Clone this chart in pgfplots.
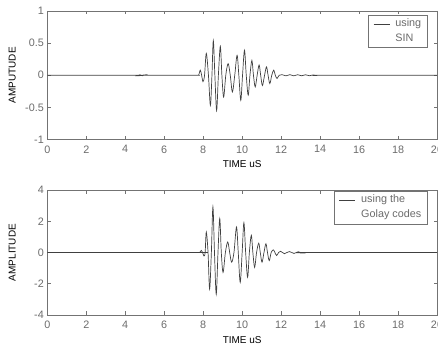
\documentclass[border=0pt]{standalone}
\usepackage{pgfplots}
\pgfplotsset{compat=1.18}
\usepackage{fontspec}
\setmainfont{Liberation Sans}
\definecolor{axgray}{gray}{0.45}
\definecolor{txgray}{gray}{0.42}
\definecolor{siggray}{gray}{0.25}
\newcommand{\chartfont}{\fontsize{10.8bp}{13bp}\selectfont}

\pgfplotstableread{
t y
0 0
4.5 0
4.62 -0.008
4.75 0.007
4.88 -0.007
5.0 0.005
5.15 0
7.6 0
7.76 0
7.85 0.08
7.92 0
7.99 -0.1
8.07 0
8.16 0.34
8.27 0
8.37 -0.47
8.45 0
8.52 0.54
8.60 0
8.69 -0.55
8.78 0
8.88 0.45
8.96 0
9.05 -0.34
9.16 0
9.28 0.18
9.39 0
9.50 -0.26
9.62 0
9.74 0.31
9.83 0
9.93 -0.39
10.02 0
10.12 0.39
10.21 0
10.31 -0.31
10.40 0
10.50 0.23
10.58 0
10.67 -0.18
10.77 0
10.87 0.16
10.95 0
11.04 -0.16
11.15 0
11.25 0.13
11.33 0
11.42 -0.13
11.52 0
11.62 0.08
11.70 0
11.79 -0.05
11.90 0
12.05 0.009
12.25 -0.009
12.45 0.009
12.65 -0.009
12.85 0.008
13.05 -0.008
13.25 0.007
13.45 -0.007
13.65 0.005
13.85 -0.004
14.1 0
20 0
}\sindata

\pgfplotstableread{
t y
0 0
7.7 0
7.82 0
7.90 0.13
7.97 0
8.04 -0.22
8.10 0
8.16 1.31
8.25 0
8.33 -2.34
8.42 0
8.50 2.92
8.58 0
8.67 -2.67
8.76 0
8.85 2.17
8.93 0
9.02 -1.27
9.14 0
9.26 0.67
9.36 0
9.46 -0.62
9.58 0
9.71 1.63
9.80 0
9.90 -1.91
10.00 0
10.09 1.91
10.18 0
10.28 -1.59
10.37 0
10.47 1.10
10.55 0
10.64 -0.95
10.74 0
10.85 0.60
10.93 0
11.02 -0.62
11.12 0
11.22 0.56
11.30 0
11.39 -0.52
11.49 0
11.60 0.17
11.68 0
11.77 -0.19
11.87 0
11.97 0.08
12.07 0
12.17 -0.08
12.30 0
12.42 0.06
12.55 0
12.66 -0.06
12.78 0
12.88 0.05
13.00 0
13.10 -0.03
13.25 0
20 0
}\golaydata

\pgfplotsset{
  mystyle/.style={
    scale only axis,
    width=389.7bp,
    xmin=0, xmax=20,
    xtick={0,2,...,20},
    tick align=inside,
    xtick pos=both, ytick pos=both,
    major tick length=3.5bp,
    axis line style={axgray, line width=0.6bp},
    every tick/.style={axgray, line width=0.6bp},
    tick label style={font=\chartfont, text=txgray},
    xticklabel style={yshift=-2.5bp},
    label style={font=\chartfont, text=txgray},
    every axis x label/.style={at={(rel axis cs:0.5,0)}, yshift=-25bp, anchor=center},
    xlabel={TIME uS},
    legend cell align=left,
    legend style={draw=axgray, line width=0.6bp, fill=white, font=\chartfont, text=txgray,
      inner xsep=5bp, inner ysep=2bp, row sep=1.5bp, column sep=4bp,
      nodes={inner sep=1.5bp, text height=8bp, text depth=2.5bp}},
    legend image code/.code={\draw[#1] (0bp,0bp) -- (16bp,0bp);},
    legend image post style={line width=0.6bp},
  }
}

\begin{document}
\begin{tikzpicture}
\useasboundingbox (0,0) rectangle (438bp,351bp);
\begin{axis}[mystyle,
  at={(47.3bp,211.5bp)}, anchor=south west,
  height=128.5bp,
  ymin=-1, ymax=1,
  ytick={-1,-0.5,0,0.5,1},
  yticklabels={-1,-0.5,0,0.5,1},
  xticklabels={0,2,4,6,8,10,12,14,16,18,20},
  every axis y label/.style={at={(rel axis cs:0,0.5)}, xshift=-35bp, rotate=90, anchor=center},
  ylabel={AMPUTUDE},
  legend style={at={(rel axis cs:0.977,0.969)}, anchor=north east},
]
\addplot[siggray, line width=0.7bp, smooth, tension=0.55] table[x=t,y=y] {\sindata};
\addlegendentry{using}
\addlegendimage{empty legend}
\addlegendentry{SIN}
\end{axis}

\begin{axis}[mystyle,
  at={(47.3bp,36bp)}, anchor=south west,
  height=125bp,
  ymin=-4, ymax=4,
  ytick={-4,-2,0,2,4},
  yticklabels={-4,-2,0,2,4},
  xticklabels={0,2,4,6,8,10,12,14,16,18,20},
  every axis y label/.style={at={(rel axis cs:0,0.5)}, xshift=-35bp, rotate=90, anchor=center},
  ylabel={AMPLITUDE},
  legend style={at={(rel axis cs:0.977,0.992)}, anchor=north east},
]
\addplot[siggray, line width=0.7bp, smooth, tension=0.55] table[x=t,y=y] {\golaydata};
\addlegendentry{using the}
\addlegendimage{empty legend}
\addlegendentry{Golay codes}
\end{axis}
\end{tikzpicture}
\end{document}
